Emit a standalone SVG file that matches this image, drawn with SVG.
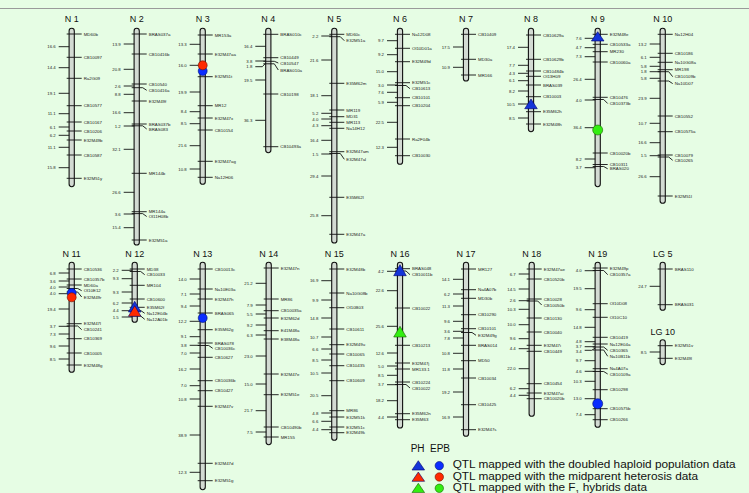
<svg xmlns="http://www.w3.org/2000/svg" width="749" height="493" viewBox="0 0 749 493">
<style>
.c{fill:#d3dbd3;stroke:#111;stroke-width:1.1}
.k{stroke:#111;stroke-width:0.9;fill:none}
.l{font-family:"Liberation Sans",Arial,sans-serif;font-size:4.4px;fill:#222}
.n{font-family:"Liberation Sans",Arial,sans-serif;font-size:4.3px;fill:#222;text-anchor:end}
.h{font-family:"Liberation Sans",Arial,sans-serif;font-size:9px;fill:#111;text-anchor:middle}
.g{font-family:"Liberation Sans",Arial,sans-serif;font-size:11.8px;fill:#111}
.bc{fill:#0a2cff;stroke:#001070;stroke-width:0.6}
.rc{fill:#ff2a00;stroke:#701000;stroke-width:0.6}
.gc{fill:#33ee11;stroke:#1a6000;stroke-width:0.6}
.bt{fill:#1434d8;stroke:#000070;stroke-width:0.6}
.rt{fill:#ff2a00;stroke:#000070;stroke-width:0.6}
.gt{fill:#33ee11;stroke:#1a6000;stroke-width:0.6}
</style>
<rect width="749" height="493" fill="#e6fde4"/>
<line x1="0" y1="8.5" x2="749" y2="8.5" stroke="#9a9a9a" stroke-width="1.2"/>

<g id="N1" transform="translate(71.7,0)">
<text class="h" x="0" y="22.3">N 1</text>
<rect class="c" x="-2.6" y="28.3" width="5.2" height="158.4" rx="2.6"/>
<path class="k" d="M-5 34H10M-5 57.3H10M-5 78.3H10M-5 105.7H10M-5 122H10M-5 131H10M-5 140H10M-5 155H10M-5 178.3H10"/>
<text class="l" x="12" y="35.5">MD60b</text><text class="l" x="12" y="58.8">CB10097</text><text class="l" x="12" y="79.8">Ra2G09</text><text class="l" x="12" y="107.2">CB10577</text><text class="l" x="12" y="123.5">CB10167</text><text class="l" x="12" y="132.5">CB10206</text><text class="l" x="12" y="141.5">E32M49b</text><text class="l" x="12" y="156.5">CB10587</text><text class="l" x="12" y="179.8">E32M51y</text>
<path class="k" d="M-13 46.7H-2.5M-13 67.7H-2.5M-13 93.3H-2.5M-13 113.7H-2.5M-13 127H-2.5M-13 135.3H-2.5M-13 147.3H-2.5M-13 167.7H-2.5"/>
<text class="n" x="-16" y="48.2">16.6</text><text class="n" x="-16" y="69.2">14.4</text><text class="n" x="-16" y="94.8">19.1</text><text class="n" x="-16" y="115.2">11.1</text><text class="n" x="-16" y="128.5">6.1</text><text class="n" x="-16" y="136.8">6.2</text><text class="n" x="-16" y="148.8">11.1</text><text class="n" x="-16" y="169.2">15.8</text>
</g>

<g id="N2" transform="translate(136.7,0)">
<text class="h" x="0" y="22.3">N 2</text>
<rect class="c" x="-2.6" y="28.3" width="5.2" height="216.7" rx="2.6"/>
<path class="k" d="M-5 34H10M-5 54H10M-5 84H10M-5 101H10M-5 124H10M-5 173.3H10M-5 211.7H10M-5 240H10M-5 87.7H6L10 90.3M-5 125.8H6L10 129M-5 213.6H6L10 216.5"/>
<text class="l" x="12" y="35.5">BRAS037a</text><text class="l" x="12" y="55.5">CB10416b</text><text class="l" x="12" y="85.5">CB10540</text><text class="l" x="12" y="91.8">CB10416a</text><text class="l" x="12" y="102.5">E32M49f</text><text class="l" x="12" y="125.5">BRAS037b</text><text class="l" x="12" y="130.5">BRAS083</text><text class="l" x="12" y="174.8">MR144b</text><text class="l" x="12" y="213.2">MR144a</text><text class="l" x="12" y="218">Ol11H08b</text><text class="l" x="12" y="241.5">E32M51a</text>
<path class="k" d="M-13 44H-2.5M-13 69.3H-2.5M-13 86H-2.5M-13 94.3H-2.5M-13 112.7H-2.5M-13 126H-2.5M-13 149.3H-2.5M-13 192.3H-2.5M-13 214H-2.5M-13 227.7H-2.5"/>
<text class="n" x="-16" y="45.5">13.9</text><text class="n" x="-16" y="70.8">20.8</text><text class="n" x="-16" y="87.5">2.6</text><text class="n" x="-16" y="95.8">8.8</text><text class="n" x="-16" y="114.2">16.6</text><text class="n" x="-16" y="127.5">1.2</text><text class="n" x="-16" y="150.8">32.1</text><text class="n" x="-16" y="193.8">26.6</text><text class="n" x="-16" y="215.5">3.6</text><text class="n" x="-16" y="229.2">15.4</text>
</g>

<g id="N3" transform="translate(202.7,0)">
<text class="h" x="0" y="22.3">N 3</text>
<rect class="c" x="-2.6" y="28.3" width="5.2" height="156" rx="2.6"/>
<path class="k" d="M-5 35H10M-5 54H10M-5 76.7H10M-5 105.7H10M-5 118H10M-5 130H10M-5 161.3H10M-5 177.3H10"/>
<text class="l" x="12" y="36.5">MR153a</text><text class="l" x="12" y="55.5">E32M47aa</text><text class="l" x="12" y="78.2">E32M51t</text><text class="l" x="12" y="107.2">MR12</text><text class="l" x="12" y="119.5">E32M47x</text><text class="l" x="12" y="131.5">CB10154</text><text class="l" x="12" y="162.8">E32M47ag</text><text class="l" x="12" y="178.8">Na12H06</text>
<path class="k" d="M-13 44.3H-2.5M-13 65.3H-2.5M-13 92H-2.5M-13 111.7H-2.5M-13 123.7H-2.5M-13 145.7H-2.5M-13 169H-2.5"/>
<text class="n" x="-16" y="45.8">13.3</text><text class="n" x="-16" y="66.8">16.0</text><text class="n" x="-16" y="93.5">19.9</text><text class="n" x="-16" y="113.2">8.4</text><text class="n" x="-16" y="125.2">8.5</text><text class="n" x="-16" y="147.2">21.6</text><text class="n" x="-16" y="170.5">10.8</text>
<circle class="bc" cx="0" cy="71" r="4.5"/><circle class="rc" cx="0" cy="65.3" r="4.5"/>
</g>

<g id="N4" transform="translate(268.3,0)">
<text class="h" x="0" y="22.3">N 4</text>
<rect class="c" x="-2.6" y="28.3" width="5.2" height="124.4" rx="2.6"/>
<path class="k" d="M-5 34.3H10M-5 57.7H10M-5 94H10M-5 146.7H10M-5 61.3H6L10 63M-5 63.8H6L10 70"/>
<text class="l" x="12" y="35.8">BRAS010c</text><text class="l" x="12" y="59.2">CB10449</text><text class="l" x="12" y="64.5">CB10547</text><text class="l" x="12" y="71.5">BRAS010a</text><text class="l" x="12" y="95.5">CB10198</text><text class="l" x="12" y="148.2">CB10493a</text>
<path class="k" d="M-13 46.3H-2.5M-13 61H-2.5M-13 66.7H-6L-2.5 63M-13 80H-2.5M-13 120.3H-2.5"/>
<text class="n" x="-16" y="47.8">16.4</text><text class="n" x="-16" y="62.5">3.8</text><text class="n" x="-16" y="68.2">1.8</text><text class="n" x="-16" y="81.5">19.5</text><text class="n" x="-16" y="121.8">36.3</text>
</g>

<g id="N5" transform="translate(334.3,0)">
<text class="h" x="0" y="22.3">N 5</text>
<rect class="c" x="-2.6" y="28.3" width="5.2" height="214.7" rx="2.6"/>
<path class="k" d="M-5 34.3H10M-5 83.3H10M-5 110H10M-5 116.7H10M-5 122.3H10M-5 128.3H10M-5 151.7H10M-5 197.3H10M-5 234.3H10M-5 36.7H6L10 40.7M-5 153.5H6L10 159.3"/>
<text class="l" x="12" y="35.8">MD60c</text><text class="l" x="12" y="42.2">E32M51a</text><text class="l" x="12" y="84.8">E35M62m</text><text class="l" x="12" y="111.5">MR119</text><text class="l" x="12" y="118.2">MD31</text><text class="l" x="12" y="123.8">MR113</text><text class="l" x="12" y="129.8">Na14H12</text><text class="l" x="12" y="153.2">E32M47am</text><text class="l" x="12" y="160.8">E32M47al</text><text class="l" x="12" y="198.8">E35M62l</text><text class="l" x="12" y="235.8">E32M47a</text>
<path class="k" d="M-13 36H-2.5M-13 60H-2.5M-13 95.7H-2.5M-13 113.3H-2.5M-13 119H-2.5M-13 125.7H-2.5M-13 140.3H-2.5M-13 154H-2.5M-13 176H-2.5M-13 215.7H-2.5"/>
<text class="n" x="-16" y="37.5">2.2</text><text class="n" x="-16" y="61.5">21.6</text><text class="n" x="-16" y="97.2">18.1</text><text class="n" x="-16" y="114.8">5.2</text><text class="n" x="-16" y="120.5">4.0</text><text class="n" x="-16" y="127.2">4.3</text><text class="n" x="-16" y="141.8">16.4</text><text class="n" x="-16" y="155.5">1.5</text><text class="n" x="-16" y="177.5">29.4</text><text class="n" x="-16" y="217.2">25.8</text>
</g>

<g id="N6" transform="translate(400,0)">
<text class="h" x="0" y="22.3">N 6</text>
<rect class="c" x="-2.6" y="28.3" width="5.2" height="136" rx="2.6"/>
<path class="k" d="M-5 34.3H10M-5 48.3H10M-5 61.7H10M-5 82.7H10M-5 97.7H10M-5 105.7H10M-5 139H10M-5 155.7H10M-5 85.5H6L10 88.7"/>
<text class="l" x="12" y="35.8">Na12D08</text><text class="l" x="12" y="49.8">Ol10D01a</text><text class="l" x="12" y="63.2">E32M49d</text><text class="l" x="12" y="84.2">E32M51c</text><text class="l" x="12" y="90.2">CB10613</text><text class="l" x="12" y="99.2">CB10101</text><text class="l" x="12" y="107.2">CB10204</text><text class="l" x="12" y="140.5">Ra2F04b</text><text class="l" x="12" y="157.2">CB10030</text>
<path class="k" d="M-13 40.7H-2.5M-13 54.7H-2.5M-13 71.7H-2.5M-13 85H-2.5M-13 92.3H-2.5M-13 102.3H-2.5M-13 122.3H-2.5M-13 147.3H-2.5"/>
<text class="n" x="-16" y="42.2">9.7</text><text class="n" x="-16" y="56.2">9.2</text><text class="n" x="-16" y="73.2">15.0</text><text class="n" x="-16" y="86.5">3.0</text><text class="n" x="-16" y="93.8">7.6</text><text class="n" x="-16" y="103.8">5.9</text><text class="n" x="-16" y="123.8">22.5</text><text class="n" x="-16" y="148.8">12.3</text>
</g>

<g id="N7" transform="translate(466,0)">
<text class="h" x="0" y="22.3">N 7</text>
<rect class="c" x="-2.6" y="28.3" width="5.2" height="52.7" rx="2.6"/>
<path class="k" d="M-5 34.3H10M-5 59.3H10M-5 75H10"/>
<text class="l" x="12" y="35.8">CB10409</text><text class="l" x="12" y="60.8">MD30a</text><text class="l" x="12" y="76.5">MR166</text>
<path class="k" d="M-13 47H-2.5M-13 67.3H-2.5"/>
<text class="n" x="-16" y="48.5">17.5</text><text class="n" x="-16" y="68.8">10.9</text>
</g>

<g id="N8" transform="translate(531,0)">
<text class="h" x="0" y="22.3">N 8</text>
<rect class="c" x="-2.6" y="28.3" width="5.2" height="103.4" rx="2.6"/>
<path class="k" d="M-5 35H10M-5 59.3H10M-5 71H10M-5 76.3H10M-5 85H10M-5 96.7H10M-5 111.7H10M-5 124H10"/>
<text class="l" x="12" y="36.5">CB10629a</text><text class="l" x="12" y="60.8">CB10629b</text><text class="l" x="12" y="72.5">CB10484b</text><text class="l" x="12" y="77.8">Ol13H09</text><text class="l" x="12" y="86.5">BRAS039</text><text class="l" x="12" y="98.2">CB10003</text><text class="l" x="12" y="113.2">E35M62h</text><text class="l" x="12" y="125.5">E32M48h</text>
<path class="k" d="M-13 47.3H-2.5M-13 65.3H-2.5M-13 73.3H-2.5M-13 80.7H-2.5M-13 91H-2.5M-13 104H-2.5M-13 118H-2.5"/>
<text class="n" x="-16" y="48.8">17.4</text><text class="n" x="-16" y="66.8">7.7</text><text class="n" x="-16" y="74.8">4.3</text><text class="n" x="-16" y="82.2">6.1</text><text class="n" x="-16" y="92.5">8.2</text><text class="n" x="-16" y="105.5">10.5</text><text class="n" x="-16" y="119.5">8.5</text>
<path class="bt" d="M0 99L6.3 108.7H-6.3Z"/>
</g>

<g id="N9" transform="translate(597.7,0)">
<text class="h" x="0" y="22.3">N 9</text>
<rect class="c" x="-2.6" y="28.3" width="5.2" height="158.4" rx="2.6"/>
<path class="k" d="M-5 34.3H10M-5 44.3H10M-5 51.7H10M-5 62H10M-5 97.3H10M-5 153H10M-5 164.5H10M-5 99.5H6L10 103.5M-5 166.5H6L10 168.8"/>
<text class="l" x="12" y="35.8">E32M48e</text><text class="l" x="12" y="45.8">CB10533a</text><text class="l" x="12" y="53.2">MR230</text><text class="l" x="12" y="63.5">CB10060a</text><text class="l" x="12" y="98.8">CB10476</text><text class="l" x="12" y="105">CB10373b</text><text class="l" x="12" y="154.5">CB10020b</text><text class="l" x="12" y="165.8">CB10311</text><text class="l" x="12" y="170.3">BRAS020</text>
<path class="k" d="M-13 38.3H-2.5M-13 47.7H-2.5M-13 56.7H-2.5M-13 79.3H-2.5M-13 100H-2.5M-13 127.7H-2.5M-13 159H-2.5M-13 167.7H-2.5"/>
<text class="n" x="-16" y="39.8">7.6</text><text class="n" x="-16" y="49.2">4.7</text><text class="n" x="-16" y="58.2">7.3</text><text class="n" x="-16" y="80.8">26.4</text><text class="n" x="-16" y="101.5">4.0</text><text class="n" x="-16" y="129.2">36.4</text><text class="n" x="-16" y="160.5">8.2</text><text class="n" x="-16" y="169.2">3.7</text>
<path class="bt" d="M0 31.7L6.3 41H-6.3Z"/>
<circle class="gc" cx="0" cy="130" r="5"/>
</g>

<g id="N10" transform="translate(662.7,0)">
<text class="h" x="0" y="22.3">N 10</text>
<rect class="c" x="-2.6" y="28.3" width="5.2" height="175" rx="2.6"/>
<path class="k" d="M-5 34.3H10M-5 53.3H10M-5 62.3H10M-5 69.7H10M-5 116H10M-5 131.7H10M-5 155H10M-5 196H10M-5 71.7H6L10 76.7M-5 81H6L10 83.6M-5 157H6L10 160.3"/>
<text class="l" x="12" y="35.8">Na12H04</text><text class="l" x="12" y="54.8">CB10186</text><text class="l" x="12" y="63.8">Na10G08a</text><text class="l" x="12" y="71.2">MR198</text><text class="l" x="12" y="78.2">CB10109b</text><text class="l" x="12" y="85.1">Na10D07</text><text class="l" x="12" y="117.5">CB10552</text><text class="l" x="12" y="133.2">CB10575a</text><text class="l" x="12" y="156.5">CB10079</text><text class="l" x="12" y="161.8">CB10265</text><text class="l" x="12" y="197.5">E32M51l</text>
<path class="k" d="M-13 44H-2.5M-13 57.3H-2.5M-13 66.3H-2.5M-13 71.7H-2.5M-13 78.3H-2.5M-13 98.3H-2.5M-13 123.3H-2.5M-13 142.7H-2.5M-13 155.7H-2.5M-13 176.7H-2.5"/>
<text class="n" x="-16" y="45.5">13.2</text><text class="n" x="-16" y="58.8">6.1</text><text class="n" x="-16" y="67.8">5.8</text><text class="n" x="-16" y="73.2">1.8</text><text class="n" x="-16" y="79.8">5.8</text><text class="n" x="-16" y="99.8">23.9</text><text class="n" x="-16" y="124.8">10.7</text><text class="n" x="-16" y="144.2">16.6</text><text class="n" x="-16" y="157.2">1.5</text><text class="n" x="-16" y="178.2">26.6</text>
</g>

<g id="N11" transform="translate(71.7,0)">
<text class="h" x="0" y="257">N 11</text>
<rect class="c" x="-2.6" y="262.3" width="5.2" height="110" rx="2.6"/>
<path class="k" d="M-5 269H10M-5 279H10M-5 285H10M-5 323.7H10M-5 338.7H10M-5 353H10M-5 365H10M-5 288.5H6L10 290.7M-5 292H6L10 297M-5 326H6L10 329.7"/>
<text class="l" x="12" y="270.5">CB10536</text><text class="l" x="12" y="280.5">CB10357b</text><text class="l" x="12" y="286.5">MD60a</text><text class="l" x="12" y="292.2">Ol10E12</text><text class="l" x="12" y="298.5">E32M49r</text><text class="l" x="12" y="325.2">E32M47l</text><text class="l" x="12" y="331.2">CB10241</text><text class="l" x="12" y="340.2">CB10369</text><text class="l" x="12" y="354.5">CB10005</text><text class="l" x="12" y="366.5">E32M48g</text>
<path class="k" d="M-13 273H-2.5M-13 281H-2.5M-13 287H-2.5M-13 293.7H-2.5M-13 309H-2.5M-13 326.3H-2.5M-13 334H-2.5M-13 346H-2.5M-13 359H-2.5"/>
<text class="n" x="-16" y="274.5">6.8</text><text class="n" x="-16" y="282.5">3.6</text><text class="n" x="-16" y="288.5">4.0</text><text class="n" x="-16" y="295.2">4.0</text><text class="n" x="-16" y="310.5">19.4</text><text class="n" x="-16" y="327.8">3.7</text><text class="n" x="-16" y="335.5">7.3</text><text class="n" x="-16" y="347.5">9.6</text><text class="n" x="-16" y="360.5">8.5</text>
<circle class="bc" cx="0" cy="293" r="4.5"/><circle class="rc" cx="0" cy="297.3" r="4.5"/>
</g>

<g id="N12" transform="translate(134.7,0)">
<text class="h" x="0" y="257">N 12</text>
<rect class="c" x="-2.6" y="262.3" width="5.2" height="60" rx="2.6"/>
<path class="k" d="M-5 269H10M-5 285.3H10M-5 299H10M-5 307.3H10M-5 271.5H6L10 274.7M-5 310.5H6L10 313.3M-5 316H6L10 319.3"/>
<text class="l" x="12" y="270.5">MD38</text><text class="l" x="12" y="276.2">CB10033</text><text class="l" x="12" y="286.8">MR104</text><text class="l" x="12" y="300.5">CB10600</text><text class="l" x="12" y="308.8">E35M62f</text><text class="l" x="12" y="314.8">Na12E04b</text><text class="l" x="12" y="320.8">Na12A01b</text>
<path class="k" d="M-13 270.3H-2.5M-13 278.7H-2.5M-13 292H-2.5M-13 303H-2.5M-13 310.7H-2.5M-13 317H-2.5"/>
<text class="n" x="-16" y="271.8">2.2</text><text class="n" x="-16" y="280.2">9.3</text><text class="n" x="-16" y="293.5">9.3</text><text class="n" x="-16" y="304.5">6.2</text><text class="n" x="-16" y="312.2">4.4</text><text class="n" x="-16" y="318.5">1.5</text>
<path class="bt" d="M0 301.3L6.3 312H-6.3Z"/>
<path class="rt" d="M0 305.7L6.3 316.3H-6.3Z"/>
</g>

<g id="N13" transform="translate(202.7,0)">
<text class="h" x="0" y="257">N 13</text>
<rect class="c" x="-2.6" y="262.3" width="5.2" height="227.4" rx="2.6"/>
<path class="k" d="M-5 269H10M-5 289H10M-5 299H10M-5 313H10M-5 329.7H10M-5 343H10M-5 357.3H10M-5 380.7H10M-5 390.7H10M-5 406.3H10M-5 463.3H10M-5 480.7H10M-5 345.5H6L10 348.3"/>
<text class="l" x="12" y="270.5">CB10013c</text><text class="l" x="12" y="290.5">Na10E03a</text><text class="l" x="12" y="300.5">E32M47h</text><text class="l" x="12" y="314.5">BRAS065</text><text class="l" x="12" y="331.2">E35M62g</text><text class="l" x="12" y="344.5">BRAS078</text><text class="l" x="12" y="349.8">CB10036c</text><text class="l" x="12" y="358.8">CB10627</text><text class="l" x="12" y="382.2">CB10036b</text><text class="l" x="12" y="392.2">CB10427</text><text class="l" x="12" y="407.8">E32M47v</text><text class="l" x="12" y="464.8">E32M47d</text><text class="l" x="12" y="482.2">E32M51g</text>
<path class="k" d="M-13 279H-2.5M-13 294H-2.5M-13 306H-2.5M-13 321.3H-2.5M-13 336.7H-2.5M-13 345.3H-2.5M-13 353H-2.5M-13 369H-2.5M-13 385.7H-2.5M-13 399H-2.5M-13 435H-2.5M-13 472.3H-2.5"/>
<text class="n" x="-16" y="280.5">14.0</text><text class="n" x="-16" y="295.5">7.1</text><text class="n" x="-16" y="307.5">9.4</text><text class="n" x="-16" y="322.8">12.2</text><text class="n" x="-16" y="338.2">9.1</text><text class="n" x="-16" y="346.8">3.8</text><text class="n" x="-16" y="354.5">7.0</text><text class="n" x="-16" y="370.5">16.2</text><text class="n" x="-16" y="387.2">7.0</text><text class="n" x="-16" y="400.5">10.8</text><text class="n" x="-16" y="436.5">38.9</text><text class="n" x="-16" y="473.8">12.3</text>
<circle class="bc" cx="0" cy="318" r="4.5"/>
</g>

<g id="N14" transform="translate(268.7,0)">
<text class="h" x="0" y="257">N 14</text>
<rect class="c" x="-2.6" y="262.3" width="5.2" height="182.4" rx="2.6"/>
<path class="k" d="M-5 268H10M-5 299H10M-5 310.7H10M-5 318H10M-5 330.7H10M-5 339H10M-5 374H10M-5 394.7H10M-5 427H10M-5 437H10"/>
<text class="l" x="12" y="269.5">E32M47n</text><text class="l" x="12" y="300.5">MR86</text><text class="l" x="12" y="312.2">CB10035a</text><text class="l" x="12" y="319.5">E32M62d</text><text class="l" x="12" y="332.2">E41M48a</text><text class="l" x="12" y="340.5">E38M48a</text><text class="l" x="12" y="375.5">E32M47e</text><text class="l" x="12" y="396.2">E32M51e</text><text class="l" x="12" y="428.5">CB10490b</text><text class="l" x="12" y="438.5">MR155</text>
<path class="k" d="M-13 283.3H-2.5M-13 305H-2.5M-13 314H-2.5M-13 325H-2.5M-13 335H-2.5M-13 356H-2.5M-13 384H-2.5M-13 410.7H-2.5M-13 432H-2.5"/>
<text class="n" x="-16" y="284.8">21.2</text><text class="n" x="-16" y="306.5">7.9</text><text class="n" x="-16" y="315.5">5.5</text><text class="n" x="-16" y="326.5">9.2</text><text class="n" x="-16" y="336.5">6.3</text><text class="n" x="-16" y="357.5">23.0</text><text class="n" x="-16" y="385.5">15.0</text><text class="n" x="-16" y="412.2">21.7</text><text class="n" x="-16" y="433.5">7.5</text>
</g>

<g id="N15" transform="translate(334.3,0)">
<text class="h" x="0" y="257">N 15</text>
<rect class="c" x="-2.6" y="262.3" width="5.2" height="178" rx="2.6"/>
<path class="k" d="M-5 269H10M-5 293H10M-5 307.7H10M-5 329H10M-5 344.7H10M-5 354H10M-5 365.7H10M-5 380.7H10M-5 410.7H10M-5 417H10M-5 427H10M-5 432.7H10"/>
<text class="l" x="12" y="270.5">E32M48b</text><text class="l" x="12" y="294.5">Na10G08b</text><text class="l" x="12" y="309.2">Ol10B03</text><text class="l" x="12" y="330.5">CB10611</text><text class="l" x="12" y="346.2">E32M49u</text><text class="l" x="12" y="355.5">CB10065</text><text class="l" x="12" y="367.2">CB10435</text><text class="l" x="12" y="382.2">CB10609</text><text class="l" x="12" y="412.2">MR86</text><text class="l" x="12" y="418.5">E32M51k</text><text class="l" x="12" y="428.5">E32M51c</text><text class="l" x="12" y="434.2">E32M49k</text>
<path class="k" d="M-13 280.7H-2.5M-13 300H-2.5M-13 318H-2.5M-13 337H-2.5M-13 349H-2.5M-13 360H-2.5M-13 373H-2.5M-13 395.7H-2.5M-13 413H-2.5M-13 421.3H-2.5M-13 429.7H-2.5"/>
<text class="n" x="-16" y="282.2">16.9</text><text class="n" x="-16" y="301.5">9.9</text><text class="n" x="-16" y="319.5">14.8</text><text class="n" x="-16" y="338.5">10.7</text><text class="n" x="-16" y="350.5">6.6</text><text class="n" x="-16" y="361.5">8.5</text><text class="n" x="-16" y="374.5">10.5</text><text class="n" x="-16" y="397.2">20.5</text><text class="n" x="-16" y="414.5">4.8</text><text class="n" x="-16" y="422.8">6.6</text><text class="n" x="-16" y="431.2">4.4</text>
</g>

<g id="N16" transform="translate(400,0)">
<text class="h" x="0" y="257">N 16</text>
<rect class="c" x="-2.6" y="262.3" width="5.2" height="165.7" rx="2.6"/>
<path class="k" d="M-5 268.7H10M-5 308H10M-5 345.3H10M-5 363H10M-5 369H10M-5 382H10M-5 413.7H10M-5 419.7H10M-5 271H6L10 274.7M-5 384.5H6L10 388"/>
<text class="l" x="12" y="270.2">BRAS048</text><text class="l" x="12" y="276.2">CB10011b</text><text class="l" x="12" y="309.5">CB10022</text><text class="l" x="12" y="346.8">CB10213</text><text class="l" x="12" y="364.5">E32M47j</text><text class="l" x="12" y="370.5">MR133.1</text><text class="l" x="12" y="383.5">CB10224</text><text class="l" x="12" y="389.5">CB10022</text><text class="l" x="12" y="415.2">E35M62n</text><text class="l" x="12" y="421.2">E35M63</text>
<path class="k" d="M-13 271.3H-2.5M-13 290.7H-2.5M-13 326.3H-2.5M-13 353H-2.5M-13 366H-2.5M-13 375.3H-2.5M-13 384.7H-2.5M-13 400.7H-2.5M-13 417H-2.5"/>
<text class="n" x="-16" y="272.8">4.2</text><text class="n" x="-16" y="292.2">22.6</text><text class="n" x="-16" y="327.8">25.6</text><text class="n" x="-16" y="354.5">12.6</text><text class="n" x="-16" y="367.5">5.0</text><text class="n" x="-16" y="376.8">8.5</text><text class="n" x="-16" y="386.2">3.7</text><text class="n" x="-16" y="402.2">18.2</text><text class="n" x="-16" y="418.5">4.4</text>
<path class="bt" d="M0 264.7L6.3 275.7H-6.3Z"/>
<path class="gt" d="M0 326.3L6.3 337H-6.3Z"/>
</g>

<g id="N17" transform="translate(466,0)">
<text class="h" x="0" y="257">N 17</text>
<rect class="c" x="-2.6" y="262.3" width="5.2" height="174" rx="2.6"/>
<path class="k" d="M-5 269H10M-5 289.7H10M-5 298.3H10M-5 314.7H10M-5 328.7H10M-5 345.3H10M-5 360.7H10M-5 378H10M-5 404.7H10M-5 429.7H10M-5 332.5H6L10 335.3"/>
<text class="l" x="12" y="270.5">MR127</text><text class="l" x="12" y="291.2">Na4A07b</text><text class="l" x="12" y="299.8">MD30b</text><text class="l" x="12" y="316.2">CB10290</text><text class="l" x="12" y="330.2">CB10101</text><text class="l" x="12" y="336.8">E32M49g</text><text class="l" x="12" y="346.8">BRAS014</text><text class="l" x="12" y="362.2">MD50</text><text class="l" x="12" y="379.5">CB10034</text><text class="l" x="12" y="406.2">CB10425</text><text class="l" x="12" y="431.2">E32M47s</text>
<path class="k" d="M-13 279.3H-2.5M-13 294H-2.5M-13 306H-2.5M-13 321.3H-2.5M-13 331.3H-2.5M-13 338H-2.5M-13 353.3H-2.5M-13 369H-2.5M-13 392H-2.5M-13 417H-2.5"/>
<text class="n" x="-16" y="280.8">14.1</text><text class="n" x="-16" y="295.5">6.2</text><text class="n" x="-16" y="307.5">11.3</text><text class="n" x="-16" y="322.8">9.6</text><text class="n" x="-16" y="332.8">3.6</text><text class="n" x="-16" y="339.5">7.8</text><text class="n" x="-16" y="354.8">10.8</text><text class="n" x="-16" y="370.5">11.8</text><text class="n" x="-16" y="393.5">19.2</text><text class="n" x="-16" y="418.5">16.9</text>
</g>

<g id="N18" transform="translate(531.7,0)">
<text class="h" x="0" y="257">N 18</text>
<rect class="c" x="-2.6" y="262.3" width="5.2" height="154" rx="2.6"/>
<path class="k" d="M-5 269H10M-5 279H10M-5 299H10M-5 318H10M-5 332H10M-5 345.3H10M-5 351.3H10M-5 383.7H10M-5 393H10M-5 398.7H10M-5 301H6L10 305"/>
<text class="l" x="12" y="270.5">E32M47ae</text><text class="l" x="12" y="280.5">CB10520b</text><text class="l" x="12" y="300.5">CB10028</text><text class="l" x="12" y="306.5">CB10050b</text><text class="l" x="12" y="319.5">CB10130</text><text class="l" x="12" y="333.5">CB10040</text><text class="l" x="12" y="346.8">E32M47i</text><text class="l" x="12" y="352.8">CB10449</text><text class="l" x="12" y="385.2">CB10454</text><text class="l" x="12" y="394.5">E32M47ai</text><text class="l" x="12" y="400.2">CB10020b</text>
<path class="k" d="M-13 274H-2.5M-13 289H-2.5M-13 300.7H-2.5M-13 309.3H-2.5M-13 324.7H-2.5M-13 338.7H-2.5M-13 348.7H-2.5M-13 368.7H-2.5M-13 388.7H-2.5M-13 395.3H-2.5"/>
<text class="n" x="-16" y="275.5">6.7</text><text class="n" x="-16" y="290.5">14.5</text><text class="n" x="-16" y="302.2">2.6</text><text class="n" x="-16" y="310.8">10.3</text><text class="n" x="-16" y="326.2">10.0</text><text class="n" x="-16" y="340.2">9.6</text><text class="n" x="-16" y="350.2">4.4</text><text class="n" x="-16" y="370.2">22.0</text><text class="n" x="-16" y="390.2">6.2</text><text class="n" x="-16" y="396.8">4.4</text>
</g>

<g id="N19" transform="translate(597.7,0)">
<text class="h" x="0" y="257">N 19</text>
<rect class="c" x="-2.6" y="262.3" width="5.2" height="165" rx="2.6"/>
<path class="k" d="M-5 268H10M-5 303.7H10M-5 317.3H10M-5 337.3H10M-5 344H10M-5 368.7H10M-5 389.7H10M-5 408.7H10M-5 419.7H10M-5 270.5H6L10 274.7M-5 347H6L10 350.3M-5 350H6L10 356.3M-5 371.5H6L10 374"/>
<text class="l" x="12" y="269.5">E32M49p</text><text class="l" x="12" y="276.2">CB10357a</text><text class="l" x="12" y="305.2">Ol10D08</text><text class="l" x="12" y="318.8">Ol10C10</text><text class="l" x="12" y="338.8">CB10419</text><text class="l" x="12" y="345.5">Na12E04a</text><text class="l" x="12" y="351.8">CB10365</text><text class="l" x="12" y="357.8">Na10B11b</text><text class="l" x="12" y="370.2">Na4A07a</text><text class="l" x="12" y="375.5">CB10109a</text><text class="l" x="12" y="391.2">CB10298</text><text class="l" x="12" y="410.2">CB10575b</text><text class="l" x="12" y="421.2">CB10266</text>
<path class="k" d="M-13 270.7H-2.5M-13 288.7H-2.5M-13 309.7H-2.5M-13 327.3H-2.5M-13 341.7H-2.5M-13 346.7H-2.5M-13 350.3H-6L-2.5 348M-13 360.7H-2.5M-13 371.3H-2.5M-13 381.3H-2.5M-13 398.7H-2.5M-13 414.7H-2.5"/>
<text class="n" x="-16" y="272.2">4.0</text><text class="n" x="-16" y="290.2">19.5</text><text class="n" x="-16" y="311.2">9.6</text><text class="n" x="-16" y="328.8">14.8</text><text class="n" x="-16" y="343.2">4.8</text><text class="n" x="-16" y="348.2">3.7</text><text class="n" x="-16" y="352.8">3.4</text><text class="n" x="-16" y="362.2">9.7</text><text class="n" x="-16" y="372.8">4.6</text><text class="n" x="-16" y="382.8">10.3</text><text class="n" x="-16" y="400.2">13.0</text><text class="n" x="-16" y="416.2">7.4</text>
<circle class="bc" cx="0" cy="403.7" r="5"/>
</g>

<g id="LG5" transform="translate(662.7,0)">
<text class="h" x="0" y="257">LG 5</text>
<rect class="c" x="-2.6" y="262.3" width="5.2" height="48" rx="2.6"/>
<path class="k" d="M-5 269H10M-5 304.7H10"/>
<text class="l" x="12" y="270.5">BRAS110</text><text class="l" x="12" y="306.2">BRAS031</text>
<path class="k" d="M-13 286.3H-2.5"/>
<text class="n" x="-16" y="287.8">24.7</text>
</g>

<g id="LG10" transform="translate(662.7,0)">
<text class="h" x="0" y="334.5">LG 10</text>
<rect class="c" x="-2.6" y="339.7" width="5.2" height="25" rx="2.6"/>
<path class="k" d="M-5 345.7H10M-5 358.3H10"/>
<text class="l" x="12" y="347.2">E32M51v</text><text class="l" x="12" y="359.8">E32M49l</text>
<path class="k" d="M-13 352H-2.5"/>
<text class="n" x="-16" y="353.5">8.5</text>
</g>

<g id="legend">
<text class="g" x="410.7" y="452" style="font-size:10px">PH</text>
<text class="g" x="430" y="452" style="font-size:10px">EPB</text>
<path class="bt" d="M418.3 460.7L424.6 470H412Z"/><circle class="bc" cx="439.3" cy="465.7" r="4.2"/>
<text class="g" x="452.7" y="468.3">QTL mapped with the doubled haploid population data</text>
<path class="rt" d="M418.3 472L424.6 481.3H412Z"/><circle class="rc" cx="439.3" cy="477" r="4.2"/>
<text class="g" x="452.7" y="479.5">QTL mapped with the midparent heterosis data</text>
<path class="gt" d="M418.3 483.3L424.6 492.6H412Z"/><circle class="gc" cx="439.3" cy="488.3" r="4.2"/>
<text class="g" x="452.7" y="490.7">QTL mapped with the F<tspan baseline-shift="sub" style="font-size:7px">1</tspan> hybrids data</text>
</g>
<g id="connectors"/>
</svg>
